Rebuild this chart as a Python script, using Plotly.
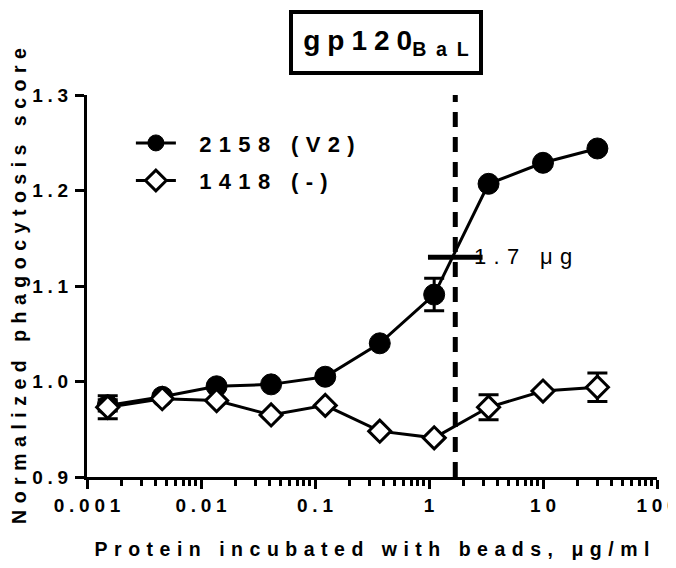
import math
import plotly.graph_objects as go

# ---- data ----
conc = [0.00152, 0.00457, 0.0137, 0.0412, 0.123, 0.370, 1.11, 3.33, 10.0, 30.0]
score_2158 = [0.975, 0.984, 0.995, 0.997, 1.005, 1.040, 1.091, 1.207, 1.229, 1.244]
err_2158 = [0.006, 0.0, 0.0, 0.0, 0.0, 0.0, 0.017, 0.0, 0.0, 0.0]
score_1418 = [0.973, 0.982, 0.980, 0.965, 0.975, 0.948, 0.941, 0.973, 0.990, 0.994]
err_1418 = [0.012, 0.0, 0.0, 0.0, 0.0, 0.0, 0.0, 0.013, 0.0, 0.015]
name_2158 = "2158 (V2)"
name_1418 = "1418 (-)"
ec50_x = [1.7]
ec50_y = [1.13]
ec50_label = "1.7 μg"
x_tickvals = [0.001, 0.01, 0.1, 1, 10, 100]
x_ticktext = ["0.001", "0.01", "0.1", "1", "10", "100"]
y_tickvals = [0.9, 1.0, 1.1, 1.2, 1.3]
y_ticktext = ["0.9", "1.0", "1.1", "1.2", "1.3"]
title_main = "gp120"
title_sub = "BaL"
x_title = "Protein incubated with beads, μg/ml"
y_title = "Normalized phagocytosis score"

FONT = "Liberation Sans, Arial, sans-serif"


def spaced(s, gap="\u2009"):
    return gap.join(list(s))


fig = go.Figure()

fig.add_trace(go.Scatter(
    x=conc, y=score_2158, name="\u2002\u2004" + spaced(name_2158, "\u2004"),
    mode="lines+markers",
    line=dict(color="black", width=3),
    marker=dict(symbol="circle", size=21, color="black",
                line=dict(color="black", width=1)),
    error_y=dict(type="data", array=err_2158, color="black",
                 thickness=3, width=10),
    legendgroup="a",
))
fig.add_trace(go.Scatter(
    x=conc, y=score_1418, name="\u2002\u2004" + spaced(name_1418, "\u2004"),
    mode="lines+markers",
    line=dict(color="black", width=3),
    marker=dict(symbol="diamond", size=17, color="white",
                line=dict(color="black", width=3)),
    error_y=dict(type="data", array=err_1418, color="black",
                 thickness=3, width=10),
    legendgroup="b",
))

# EC50 marker (horizontal bar) and dashed line
fig.add_trace(go.Scatter(
    x=ec50_x, y=ec50_y, mode="markers", showlegend=False,
    marker=dict(symbol="line-ew", size=39,
                line=dict(color="black", width=5)),
    hoverinfo="skip",
))
fig.add_shape(type="line", xref="x", yref="paper",
              x0=ec50_x[0], x1=ec50_x[0], y0=0, y1=1,
              line=dict(color="black", width=5, dash="15px,10px"),
              layer="above")
fig.add_annotation(x=math.log10(ec50_x[0]), y=ec50_y[0], xref="x", yref="y",
                   text=spaced(ec50_label, "\u2004"), showarrow=False,
                   xanchor="left", yanchor="middle", xshift=17, yshift=1,
                   font=dict(family=FONT, size=22, color="black"))

# boxed title
fig.add_annotation(
    x=0.5246, y=1.1387, xref="paper", yref="paper",
    text="<b>" + spaced(title_main, "\u2005") + "<sub>" + spaced(title_sub, "\u2002") + "</sub></b>",
    showarrow=False, xanchor="center", yanchor="middle",
    font=dict(family=FONT, size=28, color="black"),
    bordercolor="black", borderwidth=4, borderpad=8,
    bgcolor="white", width=170, height=41,
)

tick_font = dict(family=FONT, size=19, color="black", weight="bold")
title_font = dict(family=FONT, size=19.5, color="black", weight="bold")

# the page body adds an 8px offset, so the figure is sized to the window
fig.update_layout(
    width=668, height=552,
    margin=dict(l=79, r=19, t=87, b=83),
    paper_bgcolor="white", plot_bgcolor="white",
    showlegend=True,
    legend=dict(x=0.077, y=0.929, xanchor="left", yanchor="top",
                font=dict(family=FONT, size=22, color="black", weight="bold"),
                bgcolor="rgba(0,0,0,0)", tracegroupgap=6,
                itemwidth=40),
    xaxis=dict(
        type="log", range=[-3, 2], automargin=False,
        tickvals=x_tickvals, ticktext=[spaced(t, "\u2005") for t in x_ticktext],
        ticks="outside", ticklen=9, tickwidth=3, tickcolor="black",
        showline=True, linewidth=3, linecolor="black",
        showgrid=False, zeroline=False, ticklabeloverflow="allow",
        tickfont=tick_font,
        minor=dict(ticks="outside", ticklen=6, tickwidth=2.5,
                   tickcolor="black", dtick="D1", showgrid=False),
        title=dict(text=spaced(x_title, "\u2004"), font=title_font, standoff=30),
    ),
    yaxis=dict(
        range=[0.9, 1.3], automargin=False,
        tickvals=y_tickvals, ticktext=[spaced(t, "\u2005") for t in y_ticktext],
        ticks="outside", ticklen=9, tickwidth=3, tickcolor="black",
        showline=True, linewidth=3, linecolor="black",
        showgrid=False, zeroline=False, ticklabelstandoff=3,
        tickfont=tick_font,
        title=dict(text=spaced(y_title, "\u2004"), font=title_font, standoff=14),
    ),
)

fig.write_html("out.html")
